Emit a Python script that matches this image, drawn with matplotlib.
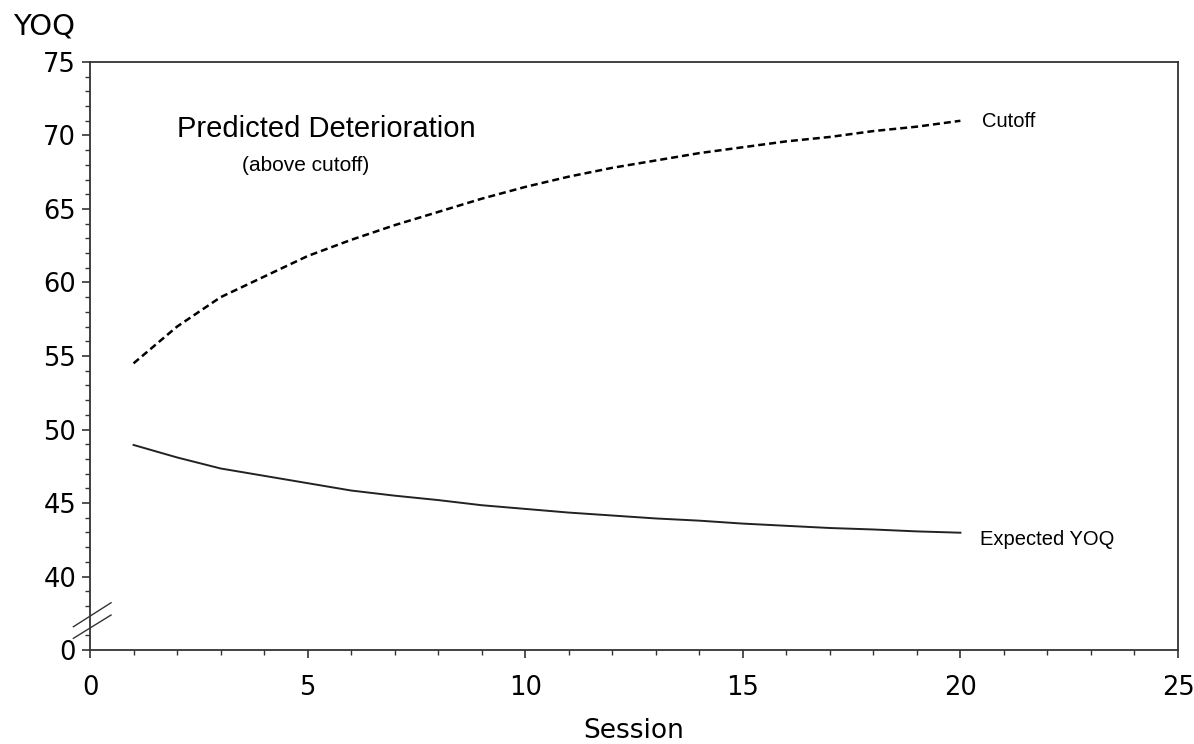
import matplotlib
matplotlib.use("Agg")
import matplotlib.pyplot as plt
from matplotlib.ticker import FixedLocator

# data
sessions = list(range(1, 21))
cutoff = [54.5, 57.0, 59.0, 60.4, 61.8, 62.9, 63.9, 64.8, 65.7, 66.5,
          67.2, 67.8, 68.3, 68.8, 69.2, 69.6, 69.9, 70.3, 70.6, 71.0]
expected = [48.95, 48.1, 47.35, 46.85, 46.35, 45.85, 45.5, 45.2, 44.85, 44.6,
            44.35, 44.15, 43.95, 43.8, 43.6, 43.45, 43.3, 43.2, 43.07, 42.98]

# broken y axis: the "0" label sits where 35 would be
y_ticks = [35, 40, 45, 50, 55, 60, 65, 70, 75]
y_labels = ['0', '40', '45', '50', '55', '60', '65', '70', '75']
y_minor = [36, 38, 39] + [v for v in range(41, 75) if v % 5 != 0]
x_ticks = [0, 5, 10, 15, 20, 25]

fig = plt.figure(figsize=(11.94, 7.44), dpi=100)
ax = fig.add_axes([0.0754, 0.1263, 0.9112, 0.7904])

ax.plot(sessions, cutoff, color='black', linewidth=1.8, dashes=(2.8, 1.6))
ax.plot(sessions, expected, color='#222222', linewidth=1.4)

ax.set_xlim(0, 25)
ax.set_ylim(35, 75)
ax.set_xticks(x_ticks)
ax.xaxis.set_minor_locator(FixedLocator([v for v in range(1, 25) if v % 5 != 0]))
ax.set_yticks(y_ticks)
ax.set_yticklabels(y_labels)
ax.yaxis.set_minor_locator(FixedLocator(y_minor))

for s in ax.spines.values():
    s.set_linewidth(1.3)
    s.set_color('#333333')
ax.tick_params(which='major', length=6, width=1.2, color='#333333',
               labelsize=18.5, direction='out')
ax.tick_params(which='minor', length=3.5, width=1.0, color='#333333',
               direction='out')
ax.tick_params(axis='x', which='major', pad=12)
ax.tick_params(axis='y', which='major', pad=4)
ax.set_xlabel('Session', fontsize=19, labelpad=12)

# axis break marks
for y0, y1 in [(0.0396, 0.0804), (0.0199, 0.0595)]:
    ax.plot([-0.0153, 0.0193], [y0, y1], transform=ax.transAxes,
            color='#333333', linewidth=1.0, clip_on=False)

fig.text(0.011, 0.953, 'YOQ', fontsize=21, va='baseline')

lab = 'Liberation Sans'
ax.text(2.0, 69.9, 'Predicted Deterioration', family=lab, fontsize=21,
        va='baseline', ha='left')
ax.text(3.49, 67.6, '(above cutoff)', family=lab, fontsize=15,
        va='baseline', ha='left')
ax.text(20.5, 70.58, 'Cutoff', family=lab, fontsize=14.5, va='baseline')
ax.text(20.46, 42.15, 'Expected YOQ', family=lab, fontsize=14.5, va='baseline')

fig.savefig('out.png', dpi=100)
